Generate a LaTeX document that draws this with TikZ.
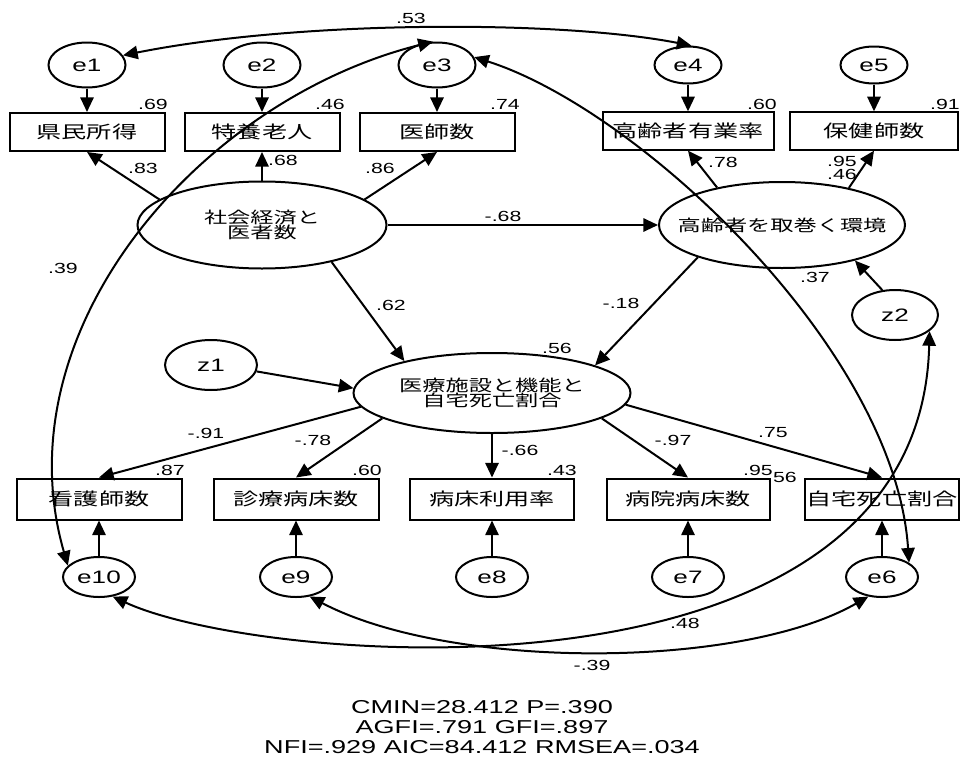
\documentclass[tikz,border=0pt]{standalone}
\usepackage{fontspec}
\setmainfont{Liberation Sans}[FakeStretch=1.45]
\newfontfamily\jpfont{Noto Sans CJK JP}[FakeStretch=1.45]
\usetikzlibrary{arrows.meta,shapes.geometric}
\tikzset{errvar/.style={ellipse,draw=black,line width=1.5pt,inner sep=0pt,font=\fontsize{13.5}{13.5}\selectfont}}
\tikzset{obsvar/.style={rectangle,draw=black,line width=1.5pt,inner sep=0pt,font=\jpfont\fontsize{13}{13}\selectfont}}
\tikzset{latvar/.style={ellipse,draw=black,line width=1.5pt,inner ysep=0pt,inner xsep=-20pt,align=center,font=\jpfont\fontsize{12}{11.5}\selectfont}}
\tikzset{coef/.style={inner sep=0pt,font=\fontsize{11}{11}\selectfont}}
\tikzset{causal/.style={-{Triangle[length=11pt,width=10pt]},line width=1.5pt}}
\tikzset{covar/.style={{Triangle[length=11pt,width=10pt]}-{Triangle[length=11pt,width=10pt]},line width=1.5pt}}

\begin{document}
\begin{tikzpicture}[x=0.75pt,y=-0.75pt]
% \draw[help lines] (0,0) grid (960,760);
\useasboundingbox (0,0) rectangle (960,760);
%
\node (e1) [errvar,minimum width=57.75pt,minimum height=33.75pt] at (87,65) {e1};
\node (e2) [errvar,minimum width=57.75pt,minimum height=33.75pt] at (262,65) {e2};
\node (e3) [errvar,minimum width=57.75pt,minimum height=33.75pt] at (437,65) {e3};
\node (e4) [errvar,minimum width=50.25pt,minimum height=27.75pt] at (688,65) {e4};
\node (e5) [errvar,minimum width=50.25pt,minimum height=27.75pt] at (874,65) {e5};
%
\node (kenmin) [obsvar,minimum width=116.25pt,minimum height=28.5pt] at (87,132) {県民所得};
\node (tokuyou) [obsvar,minimum width=116.25pt,minimum height=28.5pt] at (262,132) {特養老人};
\node (ishi) [obsvar,minimum width=116.25pt,minimum height=28.5pt] at (437,132) {医師数};
\node (yugyo) [obsvar,minimum width=128.25pt,minimum height=28pt] at (688,131) {高齢者有業率};
\node (hoken) [obsvar,minimum width=126pt,minimum height=28pt] at (874,131) {保健師数};
%
\node (soc) [latvar,minimum width=186.75pt,minimum height=65.25pt] at (262,225) {社会経済と\\医者数};
\node (kourei) [latvar,minimum width=184.5pt,minimum height=64.5pt] at (782,225) {高齢者を取巻く環境};
\node (iryou) [latvar,minimum width=207.75pt,minimum height=60pt] at (492,393) {医療施設と機能と\\自宅死亡割合};
\node (z1) [errvar,minimum width=69pt,minimum height=37.5pt] at (211,365) {z1};
\node (z2) [errvar,minimum width=64.5pt,minimum height=37.5pt] at (895,315) {z2};
%
\node (kango) [obsvar,minimum width=123.75pt,minimum height=30.75pt] at (99,499) {看護師数};
\node (shinryo) [obsvar,minimum width=123.75pt,minimum height=30.75pt] at (296,499) {診療病床数};
\node (byosho) [obsvar,minimum width=123pt,minimum height=30.75pt] at (492,499) {病床利用率};
\node (byoin) [obsvar,minimum width=122.25pt,minimum height=30.75pt] at (688,499) {病院病床数};
\node (jitaku) [obsvar,minimum width=115.5pt,minimum height=30.75pt] at (882,499) {自宅死亡割合};
%
\node (e10) [errvar,minimum width=54pt,minimum height=30pt] at (99,577) {e10};
\node (e9) [errvar,minimum width=54pt,minimum height=30pt] at (296,577) {e9};
\node (e8) [errvar,minimum width=54pt,minimum height=30pt] at (492,577) {e8};
\node (e7) [errvar,minimum width=54pt,minimum height=30pt] at (688,577) {e7};
\node (e6) [errvar,minimum width=54pt,minimum height=30pt] at (882,577) {e6};
%
\path[causal] (e1) edge (kenmin);
\path[causal] (e2) edge (tokuyou);
\path[causal] (e3) edge (ishi);
\path[causal] (e4) edge (yugyo);
\path[causal] (e5) edge (hoken);
\path[causal] (soc.166) edge (kenmin.south);
\path[causal] (soc.north) edge (tokuyou.south);
\path[causal] (soc.14) edge (ishi.south);
\path[causal] (kourei.150) edge (yugyo.south);
\path[causal] (kourei.29) edge (hoken.south);
\path[causal] (soc.east) edge (kourei.west);
\path[causal] (soc.-28) edge (iryou.160);
\path[causal] (kourei.201) edge (iryou.15);
\path[causal] (z1.-8) edge (iryou.178);
\path[causal] (z2.117) edge (kourei.-26);
%
\path[causal] (iryou.186) edge (kango.north);
\path[causal] (iryou.193) edge (shinryo.north);
\path[causal] (iryou.south) edge (byosho.north);
\path[causal] (iryou.-13) edge (byoin.north);
\path[causal] (iryou.-5) edge (jitaku.north);
\path[causal] (e10) edge (kango);
\path[causal] (e9) edge (shinryo);
\path[causal] (e8) edge (byosho);
\path[causal] (e7) edge (byoin);
\path[causal] (e6) edge (jitaku);
%
\draw[covar] (e1.15) .. controls (300,20) and (560,20) .. (e4.80);
\draw[covar] (e10.160) .. controls (0,330) and (200,100) .. (e3.100);
\draw[covar] (e3.12) .. controls (640,110) and (895,350) .. (e6.28);
\draw[covar] (e10.-55) .. controls (260,665) and (920,720) .. (z2.-25);
\draw[covar] (e9.-55) .. controls (450,670) and (740,670) .. (e6.-125);
%
\node (r53) [coef] at (411,18) {.53};
\node (r69) [coef] at (153,104) {.69};
\node (r46a) [coef] at (330,104) {.46};
\node (r74) [coef] at (505,104) {.74};
\node (r60a) [coef] at (762,104) {.60};
\node (r91) [coef,anchor=east] at (960,104) {.91};
\node (r83) [coef] at (143,168) {.83};
\node (r68) [coef] at (283,160) {.68};
\node (r86) [coef] at (380,168) {.86};
\node (r78) [coef] at (723,162) {.78};
\node (r95a) [coef] at (842,161) {.95};
\node (r46b) [coef] at (842,174) {.46};
\node (rm68) [coef] at (503,216) {-.68};
\node (r39) [coef] at (63,268) {.39};
\node (r37) [coef] at (815,277) {.37};
\node (r62) [coef] at (391,305) {.62};
\node (rm18) [coef] at (621,303) {-.18};
\node (r56a) [coef] at (557,348) {.56};
\node (rm91) [coef] at (206,433) {-.91};
\node (rm78) [coef] at (313,440) {-.78};
\node (rm66) [coef] at (520,450) {-.66};
\node (rm97) [coef] at (673,440) {-.97};
\node (r75) [coef] at (773,433) {.75};
\node (r87) [coef] at (170,470) {.87};
\node (r60b) [coef] at (367,470) {.60};
\node (r43) [coef] at (562,470) {.43};
\node (r56b) [coef] at (782,477) {.56};
\node (r95b) [coef,fill=white] at (758,470) {.95};
\node (r48) [coef] at (685,623) {.48};
\node (rm39) [coef] at (592,665) {-.39};
%
\node (fit) [align=center,inner sep=0pt,font=\fontsize{14}{15}\selectfont] at (482,727) {CMIN=28.412 P=.390\\AGFI=.791 GFI=.897\\NFI=.929 AIC=84.412 RMSEA=.034};
\end{tikzpicture}
\end{document}
